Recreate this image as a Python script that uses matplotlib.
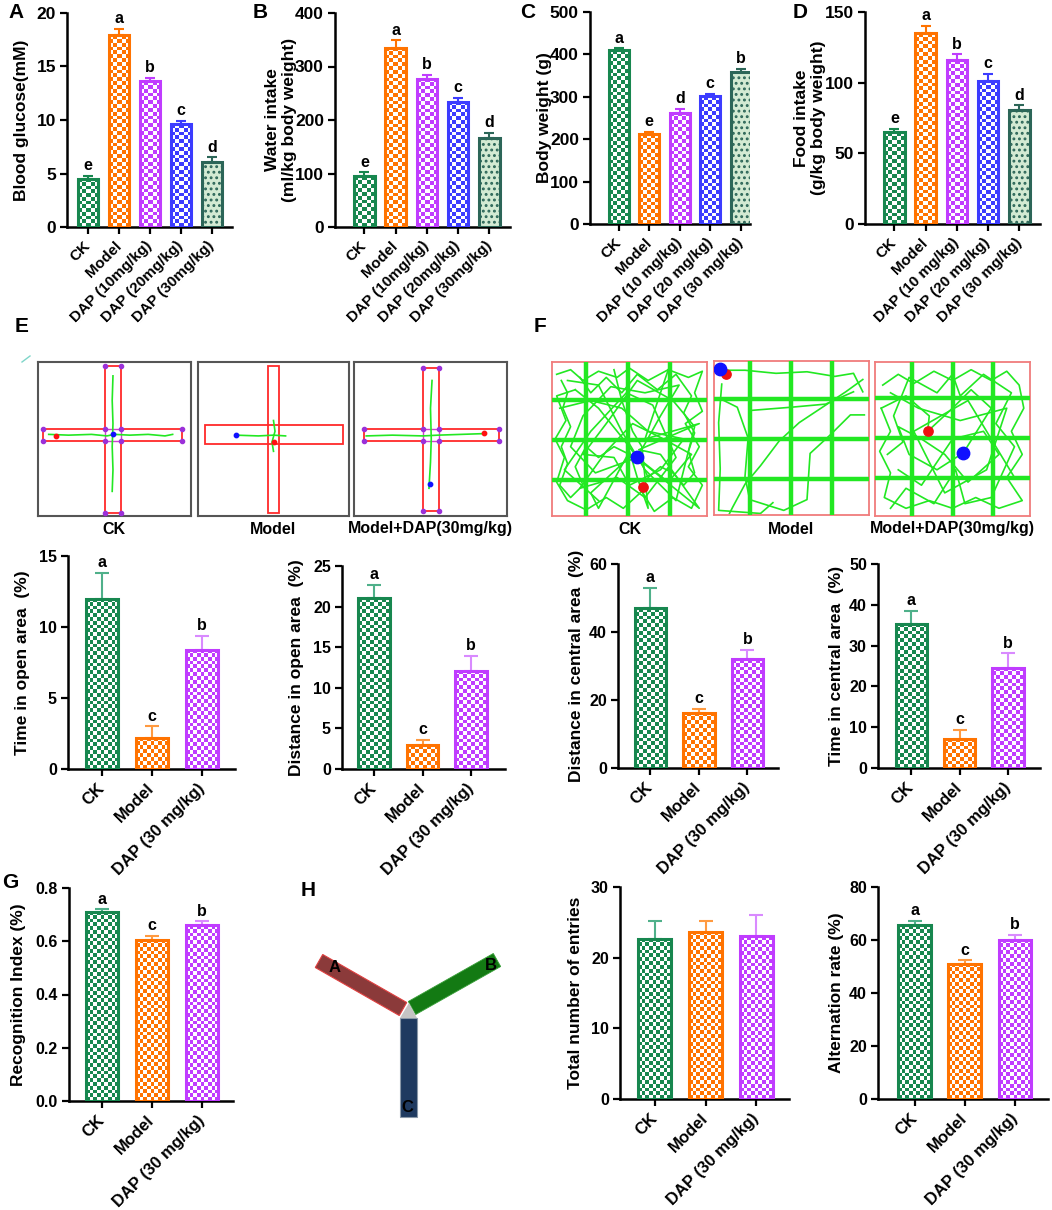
import numpy as np
import matplotlib.pyplot as plt
import matplotlib.colors as mcolors
from matplotlib.patches import Rectangle, Polygon

plt.rcParams["font.family"] = ["Liberation Sans", "DejaVu Sans"]
plt.rcParams["font.weight"] = "bold"
plt.rcParams["axes.labelweight"] = "bold"
plt.rcParams["hatch.linewidth"] = 1.3

W, H = 1052, 1210

# ---- data -------------------------------------------------------------
groups_ab = ["CK", "Model", "DAP (10mg/kg)", "DAP (20mg/kg)", "DAP (30mg/kg)"]
groups_cd = ["CK", "Model", "DAP (10 mg/kg)", "DAP (20 mg/kg)", "DAP (30 mg/kg)"]
groups_3 = ["CK", "Model", "DAP (30 mg/kg)"]

glucose = [4.5, 17.9, 13.6, 9.6, 6.1]
glucose_err = [0.3, 0.6, 0.3, 0.3, 0.4]
glucose_sig = ["e", "a", "b", "c", "d"]

water = [95, 335, 277, 234, 166]
water_err = [7, 14, 8, 7, 10]
water_sig = ["e", "a", "b", "c", "d"]

body_weight = [410, 212, 262, 301, 359]
body_weight_err = [4, 6, 10, 5, 6]
body_weight_sig = ["a", "e", "d", "c", "b"]

food = [65, 135, 116, 101, 81]
food_err = [2.5, 5, 4, 5, 3]
food_sig = ["e", "a", "b", "c", "d"]

open_time = [12.0, 2.2, 8.4]
open_time_err = [1.8, 0.8, 1.0]
open_dist = [21.0, 2.9, 12.1]
open_dist_err = [1.7, 0.7, 1.8]
central_dist = [47, 16.2, 32]
central_dist_err = [6, 1.2, 2.8]
central_time = [35.3, 7.2, 24.6]
central_time_err = [3.2, 2.2, 3.5]
recognition = [0.71, 0.605, 0.66]
recognition_err = [0.01, 0.015, 0.015]
entries = [22.7, 23.7, 23.0]
entries_err = [2.5, 1.5, 3.1]
alternation = [65.5, 51, 60]
alternation_err = [1.8, 1.3, 2.0]
sig_3 = ["a", "c", "b"]

# open-field tracks (x, y from top, fraction of arena)
of_ck = [
    [(0.03, 0.08), (0.12, 0.05), (0.2, 0.12), (0.3, 0.06), (0.42, 0.1), (0.5, 0.04), (0.62, 0.12),
     (0.75, 0.05), (0.88, 0.1), (0.97, 0.06), (0.92, 0.2), (0.97, 0.32), (0.86, 0.4), (0.95, 0.55),
     (0.88, 0.68), (0.97, 0.8), (0.9, 0.95), (0.78, 0.88), (0.66, 0.97), (0.58, 0.84), (0.46, 0.95),
     (0.35, 0.88), (0.22, 0.96), (0.1, 0.9), (0.03, 0.78), (0.08, 0.62), (0.02, 0.5), (0.09, 0.38),
     (0.03, 0.22), (0.15, 0.18)],
    [(0.15, 0.18), (0.3, 0.3), (0.46, 0.5), (0.55, 0.62), (0.7, 0.35), (0.82, 0.15), (0.6, 0.2),
     (0.38, 0.16), (0.2, 0.35), (0.12, 0.55), (0.28, 0.72), (0.55, 0.62), (0.75, 0.78), (0.9, 0.6),
     (0.72, 0.5), (0.52, 0.4), (0.35, 0.58), (0.18, 0.82), (0.42, 0.75), (0.6, 0.88), (0.8, 0.62),
     (0.65, 0.28), (0.48, 0.2), (0.25, 0.45), (0.08, 0.7), (0.3, 0.9)],
    [(0.05, 0.3), (0.25, 0.25), (0.45, 0.3), (0.62, 0.45), (0.85, 0.5), (0.7, 0.7), (0.5, 0.8),
     (0.4, 0.62), (0.2, 0.6), (0.35, 0.4), (0.55, 0.12), (0.78, 0.25), (0.92, 0.42), (0.8, 0.9),
     (0.6, 0.7), (0.45, 0.45), (0.3, 0.15), (0.1, 0.12)],
    [(0.06, 0.12), (0.1, 0.2), (0.07, 0.3), (0.12, 0.42), (0.06, 0.55), (0.1, 0.66), (0.05, 0.8),
     (0.12, 0.88), (0.2, 0.8), (0.15, 0.68), (0.22, 0.55), (0.3, 0.62), (0.4, 0.55), (0.5, 0.6),
     (0.58, 0.66), (0.62, 0.75), (0.7, 0.68), (0.78, 0.72), (0.85, 0.8), (0.92, 0.72),
     (0.88, 0.58), (0.92, 0.46), (0.85, 0.33), (0.9, 0.22), (0.8, 0.08), (0.68, 0.18),
     (0.55, 0.08), (0.45, 0.2), (0.35, 0.1), (0.25, 0.2), (0.18, 0.1)],
    [(0.4, 0.05), (0.45, 0.25), (0.52, 0.45), (0.58, 0.55), (0.62, 0.95), (0.55, 0.75),
     (0.5, 0.58), (0.3, 0.95), (0.25, 0.85), (0.52, 0.6), (0.95, 0.95), (0.7, 0.6), (0.56, 0.57),
     (0.95, 0.4), (0.6, 0.5), (0.75, 0.05)],
]
of_model = [
    [(0.04, 0.06), (0.2, 0.06), (0.4, 0.08), (0.6, 0.07), (0.78, 0.1), (0.9, 0.08), (0.96, 0.2)],
    [(0.96, 0.12), (0.85, 0.2), (0.7, 0.3), (0.55, 0.4), (0.42, 0.52), (0.3, 0.68), (0.2, 0.8),
     (0.12, 0.95), (0.1, 0.99)],
    [(0.05, 0.15), (0.03, 0.4), (0.04, 0.7), (0.03, 0.97), (0.3, 0.99), (0.38, 0.92)],
    [(0.05, 0.25), (0.15, 0.3), (0.22, 0.5), (0.2, 0.75), (0.23, 0.9), (0.45, 0.97), (0.6, 0.9),
     (0.62, 0.6), (0.75, 0.48), (0.88, 0.35), (0.97, 0.35)],
    [(0.25, 0.32), (0.5, 0.3), (0.72, 0.28), (0.9, 0.2)],
]
of_dap = [
    [(0.05, 0.15), (0.15, 0.08), (0.25, 0.14), (0.38, 0.06), (0.5, 0.12), (0.62, 0.05), (0.75, 0.12),
     (0.85, 0.06), (0.93, 0.15), (0.96, 0.3), (0.88, 0.45), (0.95, 0.6), (0.85, 0.75), (0.95, 0.9),
     (0.8, 0.95), (0.65, 0.88), (0.5, 0.95), (0.35, 0.9), (0.2, 0.95), (0.06, 0.88), (0.1, 0.72),
     (0.03, 0.58), (0.1, 0.45), (0.04, 0.3)],
    [(0.04, 0.3), (0.2, 0.22), (0.35, 0.35), (0.34, 0.45), (0.5, 0.3), (0.62, 0.18), (0.75, 0.3),
     (0.57, 0.59), (0.4, 0.7), (0.22, 0.6), (0.15, 0.42), (0.3, 0.5), (0.45, 0.6), (0.6, 0.78),
     (0.8, 0.6), (0.7, 0.45), (0.5, 0.5), (0.3, 0.8), (0.15, 0.7)],
    [(0.1, 0.2), (0.28, 0.3), (0.55, 0.38), (0.85, 0.3), (0.72, 0.7), (0.45, 0.85), (0.25, 0.45),
     (0.6, 0.25), (0.9, 0.75)],
    [(0.08, 0.6), (0.18, 0.52), (0.12, 0.35), (0.22, 0.1), (0.4, 0.2), (0.5, 0.08), (0.55, 0.22),
     (0.7, 0.08), (0.88, 0.2), (0.78, 0.4), (0.9, 0.55), (0.75, 0.88), (0.58, 0.92), (0.52, 0.7),
     (0.38, 0.92), (0.2, 0.82), (0.1, 0.95)],
]

# elevated plus maze tracks
epm_ck = [[(0.07, 0.47), (0.2, 0.475), (0.35, 0.47), (0.45, 0.48), (0.5, 0.47), (0.6, 0.475),
           (0.72, 0.47), (0.83, 0.48), (0.88, 0.47)],
          [(0.49, 0.09), (0.485, 0.25), (0.49, 0.4), (0.485, 0.55), (0.49, 0.7), (0.485, 0.84)]]
epm_model = [[(0.25, 0.475), (0.4, 0.48), (0.5, 0.475), (0.58, 0.48)],
             [(0.5, 0.38), (0.51, 0.45), (0.49, 0.52), (0.5, 0.58)]]
epm_dap = [[(0.08, 0.48), (0.25, 0.475), (0.45, 0.48), (0.55, 0.475), (0.7, 0.47), (0.85, 0.465)],
           [(0.51, 0.12), (0.5, 0.3), (0.505, 0.5), (0.5, 0.65), (0.49, 0.82)]]

# ---- styles -----------------------------------------------------------
GREEN = "#17874f"
ORANGE = "#ff7300"
PURPLE = "#c03cff"
BLUE = "#3c3cff"
TEAL = "#2c6658"
TEAL_FACE = "#d3ead3"
colors5 = [GREEN, ORANGE, PURPLE, BLUE, TEAL]
colors3 = [GREEN, ORANGE, PURPLE]
light3 = ["#4fb08a", "#ff9a40", "#d98aff"]
TRACK = "#22e822"

fig = plt.figure(figsize=(W / 100, H / 100), dpi=100)

overlay = fig.add_axes([0, 0, 1, 1])
overlay.set_xlim(0, W)
overlay.set_ylim(H, 0)
overlay.set_axis_off()
overlay.patch.set_alpha(0)


def px_axes(x0, y0, x1, y1):
    ax = fig.add_axes([x0 / W, 1 - y1 / H, (x1 - x0) / W, (y1 - y0) / H])
    ax.patch.set_alpha(0)
    return ax


def checker_fill(ax, bar, color, cell=3.8):
    x0, w, h = bar.get_x(), bar.get_width(), bar.get_height()
    (px0, py0), (px1, py1) = ax.transData.transform([(x0, 0), (x0 + w, h)])
    nx = max(2, int(round((px1 - px0) / cell)))
    ny = max(2, int(round((py1 - py0) / cell)))
    rgb = np.array(mcolors.to_rgb(color))
    mask = np.add.outer(np.arange(ny), np.arange(nx)) % 2
    img = np.where(mask[..., None] == 1, 1.0, rgb)
    im = ax.imshow(img, extent=(x0, x0 + w, 0, h), origin="lower",
                   interpolation="nearest", aspect="auto", zorder=2.5)
    im.set_clip_path(bar)


def bar_panel(box, values, errors, labels, ylabel, ymax, ystep, xleft, xright,
              colors, err_colors, letters, label_x, fs_ytick=12.5, fs_xtick=11,
              fs_label=12.5, capsize=3.8):
    ax = px_axes(*box)
    n = len(values)
    x = np.arange(n)
    ax.set_xlim(xleft, n - 1 + xright)
    ax.set_ylim(0, ymax)
    bars = ax.bar(x, values, width=0.65, facecolor="none", edgecolor=colors,
                  linewidth=2.2, zorder=3)
    for i, b in enumerate(bars):
        if colors[i] == TEAL:
            b.set_facecolor(TEAL_FACE)
            b.set_hatch("...")
        else:
            checker_fill(ax, b, colors[i])
        ax.errorbar(x[i], values[i], yerr=[[0], [errors[i]]], fmt="none",
                    ecolor=err_colors[i], elinewidth=1.5, capsize=capsize,
                    capthick=1.5, zorder=2)
        if letters:
            ax.annotate(letters[i], (x[i], values[i] + errors[i]), xytext=(0, 2),
                        textcoords="offset points", ha="center", va="bottom",
                        fontsize=11.5, fontweight="bold")
    ax.set_xlim(xleft, n - 1 + xright)
    ax.set_ylim(0, ymax)
    ticks = np.arange(0, ymax + ystep / 2, ystep)
    ax.set_yticks(ticks)
    if ystep < 1:
        ax.set_yticklabels([f"{v:.1f}" for v in ticks])
    ax.set_xticks(x)
    ax.set_xticklabels(labels, rotation=45, ha="right", va="center",
                       rotation_mode="anchor", fontsize=fs_xtick, fontweight="bold")
    for s in ("top", "right"):
        ax.spines[s].set_visible(False)
    for s in ("left", "bottom"):
        ax.spines[s].set_linewidth(1.8)
    ax.tick_params(axis="both", direction="out", length=5, width=1.6, pad=3)
    ax.tick_params(axis="y", labelsize=fs_ytick)
    ax.tick_params(axis="x", pad=7)
    ax.set_ylabel(ylabel, fontsize=fs_label, fontweight="bold", va="center",
                  ha="center", linespacing=1.15)
    ax.yaxis.set_label_coords((label_x - box[0]) / (box[2] - box[0]), 0.5)
    return ax


# ---- top row ----------------------------------------------------------
errc5 = colors5
bar_panel((67, 13, 232, 227), glucose, glucose_err, groups_ab, "Blood glucose(mM)",
          20, 5, -0.68, 0.65, colors5, errc5, glucose_sig, 22)
bar_panel((335, 13, 510, 227), water, water_err, groups_ab,
          "Water intake\n(ml/kg body weight)", 400, 100, -0.94, 0.66, colors5, errc5,
          water_sig, 281)
bar_panel((590, 12, 750, 224), body_weight, body_weight_err, groups_cd, "Body weight (g)",
          500, 100, -0.94, 0.3, colors5, errc5, body_weight_sig, 545)
bar_panel((865, 12, 1040, 224), food, food_err, groups_cd,
          "Food intake\n(g/kg body weight)", 150, 50, -0.94, 0.66, colors5, errc5,
          food_sig, 810)

# ---- middle row -------------------------------------------------------
mid = dict(fs_ytick=11.5, fs_xtick=12, fs_label=12.5, capsize=4.8)
bar_panel((68, 556, 235, 769), open_time, open_time_err, groups_3, "Time in open area  (%)",
          15, 5, -0.68, 0.66, colors3, light3, sig_3, 23, **mid)
bar_panel((342, 566, 505, 769), open_dist, open_dist_err, groups_3,
          "Distance in open area  (%)", 25, 5, -0.66, 0.7, colors3, light3, sig_3, 297, **mid)
bar_panel((618, 564, 778, 768), central_dist, central_dist_err, groups_3,
          "Distance in central area  (%)", 60, 20, -0.67, 0.63, colors3, light3, sig_3, 577, **mid)
bar_panel((878, 564, 1040, 768), central_time, central_time_err, groups_3,
          "Time in central area  (%)", 50, 10, -0.69, 0.66, colors3, light3, sig_3, 837, **mid)

# ---- bottom row -------------------------------------------------------
bar_panel((69, 888, 233, 1101), recognition, recognition_err, groups_3,
          "Recognition Index (%)", 0.8, 0.2, -0.66, 0.62, colors3, light3, sig_3, 19, **mid)
bar_panel((620, 887, 789, 1099), entries, entries_err, groups_3,
          "Total number of entries", 30, 10, -0.69, 0.65, colors3, light3, None, 576, **mid)
bar_panel((878, 887, 1048, 1099), alternation, alternation_err, groups_3,
          "Alternation rate (%)", 80, 20, -0.73, 0.66, colors3, light3, sig_3, 837, **mid)


# ---- E: elevated plus maze --------------------------------------------
def cross_outline(h, v):
    hx0, hx1, hy0, hy1 = h
    vx0, vx1, vy0, vy1 = v
    return [(vx0, vy0), (vx1, vy0), (vx1, hy0), (hx1, hy0), (hx1, hy1), (vx1, hy1),
            (vx1, vy1), (vx0, vy1), (vx0, hy1), (hx0, hy1), (hx0, hy0), (vx0, hy0)]


def epm_panel(box, h, v, tracks, blue, red, joined):
    ax = px_axes(*box)
    ax.set_xlim(0, 1)
    ax.set_ylim(1, 0)
    ax.set_xticks([])
    ax.set_yticks([])
    for s in ax.spines.values():
        s.set_color("#555555")
        s.set_linewidth(1.5)
    if joined:
        pts = cross_outline(h, v)
        ax.add_patch(Polygon(pts, closed=True, fill=False, edgecolor="#ff2a2a", lw=1.3))
        ax.add_patch(Rectangle((v[0], h[2]), v[1] - v[0], h[3] - h[2], fill=False,
                               edgecolor="#d040d0", lw=1.0))
        px, py = zip(*pts)
        ax.scatter(px, py, s=9, color="#9b30d9", zorder=4)
    else:
        ax.add_patch(Rectangle((h[0], h[2]), h[1] - h[0], h[3] - h[2], fill=False,
                               edgecolor="#ff2a2a", lw=1.3))
        ax.add_patch(Rectangle((v[0], v[2]), v[1] - v[0], v[3] - v[2], fill=False,
                               edgecolor="#ff2a2a", lw=1.3))
    for t in tracks:
        tx, ty = zip(*t)
        ax.plot(tx, ty, color=TRACK, lw=1.2, zorder=3)
    ax.scatter(*blue, s=10, color="#1010ff", zorder=5)
    ax.scatter(*red, s=10, color="#ff1010", zorder=5)


epm_panel((38, 362, 191, 516), (0.033, 0.94, 0.436, 0.516), (0.438, 0.54, 0.028, 0.983),
          epm_ck, (0.49, 0.465), (0.12, 0.48), True)
epm_panel((198, 362, 349, 516), (0.049, 0.96, 0.41, 0.53), (0.464, 0.534, 0.024, 0.978),
          epm_model, (0.25, 0.475), (0.5, 0.52), False)
epm_panel((354, 362, 507, 516), (0.066, 0.946, 0.436, 0.516), (0.45, 0.553, 0.04, 0.97),
          epm_dap, (0.495, 0.79), (0.85, 0.46), True)


# ---- F: open field -----------------------------------------------------
def of_panel(box, gx, gy, tracks, blue, red):
    ax = px_axes(*box)
    ax.set_xlim(0, 1)
    ax.set_ylim(1, 0)
    ax.set_xticks([])
    ax.set_yticks([])
    for s in ax.spines.values():
        s.set_color("#f07c7c")
        s.set_linewidth(1.3)
    for t in tracks:
        tx, ty = zip(*t)
        ax.plot(tx, ty, color=TRACK, lw=1.2, zorder=2)
    for g in gx:
        ax.axvline(g, color=TRACK, lw=3.2, zorder=3)
    for g in gy:
        ax.axhline(g, color=TRACK, lw=3.2, zorder=3)
    ax.scatter(*red, s=45, color="#ee1111", zorder=4)
    ax.scatter(*blue, s=80, color="#1010ff", zorder=5)


of_panel((552, 362, 707, 516), (0.22, 0.49, 0.76), (0.245, 0.507, 0.768),
         of_ck, (0.546, 0.615), (0.59, 0.81))
of_panel((714, 361, 869, 515), (0.23, 0.497, 0.76), (0.245, 0.507, 0.768),
         of_model, (0.037, 0.05), (0.08, 0.085))
of_panel((875, 362, 1030, 516), (0.24, 0.505, 0.76), (0.235, 0.495, 0.75),
         of_dap, (0.57, 0.59), (0.344, 0.45))

for cx, txt in [(114, "CK"), (273, "Model"), (430, "Model+DAP(30mg/kg)"),
                (630, "CK"), (791, "Model"), (952, "Model+DAP(30mg/kg)")]:
    overlay.text(cx, 529, txt, ha="center", va="center", fontsize=11.5, fontweight="bold")


# ---- H: Y maze --------------------------------------------------------
def arm(p0, p1, w):
    p0 = np.array(p0, float)
    p1 = np.array(p1, float)
    d = (p1 - p0) / np.linalg.norm(p1 - p0)
    n = np.array([-d[1], d[0]]) * w / 2
    return [p0 + n, p1 + n, p1 - n, p0 - n]


overlay.add_patch(Polygon(arm((319, 961), (403, 1009), 15), closed=True,
                          facecolor="#8b3a3a", edgecolor="#e04040", lw=0.8))
overlay.add_patch(Polygon(arm((412, 1008), (497, 960), 15), closed=True,
                          facecolor="#137a13", edgecolor="#3aa03a", lw=0.6))
overlay.add_patch(Rectangle((400, 1018), 17, 99, facecolor="#1f3a60", edgecolor="#8a98a8", lw=0.8))
overlay.add_patch(Polygon([(400, 1018), (417, 1018), (409, 1003)], closed=True,
                          facecolor="#c4c4c4", edgecolor="none"))
for tx, ty, t in [(335, 968, "A"), (491, 966, "B"), (407, 1107, "C")]:
    overlay.text(tx, ty, t, ha="center", va="center", fontsize=12, fontweight="bold")

# ---- panel letters ----------------------------------------------------
for tx, ty, t in [(16, 12, "A"), (260, 12, "B"), (528, 12, "C"), (800, 12, "D"),
                  (22, 326, "E"), (540, 327, "F"), (10, 882, "G"), (308, 891, "H")]:
    overlay.text(tx, ty, t, ha="center", va="center", fontsize=15, fontweight="bold")
overlay.plot([22, 30], [362, 356], color="#7fd6c9", lw=1)

fig.savefig("out.png", dpi=100)
